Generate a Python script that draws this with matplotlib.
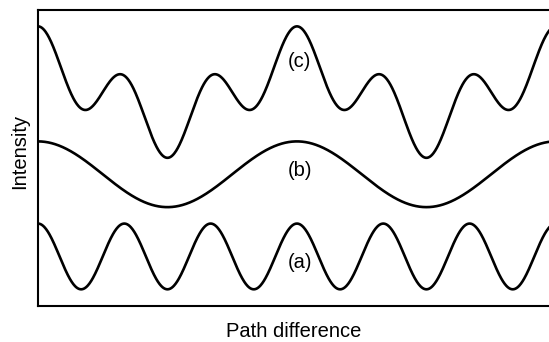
import matplotlib
matplotlib.use("Agg")
import matplotlib.pyplot as plt
import numpy as np

plt.rcParams['font.family'] = ['Liberation Sans', 'DejaVu Sans']

# Two-beam fringes: path difference measured in fringe periods of wave (a)
curve_names = ['(a)', '(b)', '(c)']
fringe_periods = [1.0, 3.0]          # period of (a) and of (b)
amplitudes = [1.0, 1.0]
baselines = [1.5, 4.0, 6.5]          # vertical offset of (a), (b), (c)
path_range = [0.0, 5.92]
label_x = [3.04, 3.04, 3.03]
label_y = [1.33, 4.11, 7.42]

x = np.linspace(path_range[0], path_range[1], 1200)
wave_a = amplitudes[0] * np.cos(2 * np.pi * x / fringe_periods[0])
wave_b = amplitudes[1] * np.cos(2 * np.pi * x / fringe_periods[1])
waves = [wave_a, wave_b, wave_a + wave_b]

fig = plt.figure(figsize=(5.49, 3.42), dpi=100)
ax = fig.add_axes([0.0692, 0.106, 0.9308, 0.865])

for wave, base, name, lx, ly in zip(waves, baselines, curve_names, label_x, label_y):
    ax.plot(x, base + wave, color='black', lw=1.9)
    ax.text(lx, ly, name, ha='center', va='center', fontsize=14.5)

ax.set_xlim(path_range)
ax.set_ylim(0, 9)
ax.set_xticks([])
ax.set_yticks([])
ax.spines['right'].set_visible(False)
for side in ['left', 'top', 'bottom']:
    ax.spines[side].set_linewidth(1.5)

fig.text(0.036, 0.558, 'Intensity', rotation=90, ha='center', va='center', fontsize=14.5)
fig.text(0.5355, 0.016, 'Path difference', ha='center', va='baseline', fontsize=14.5)

fig.savefig('out.png', dpi=100)
